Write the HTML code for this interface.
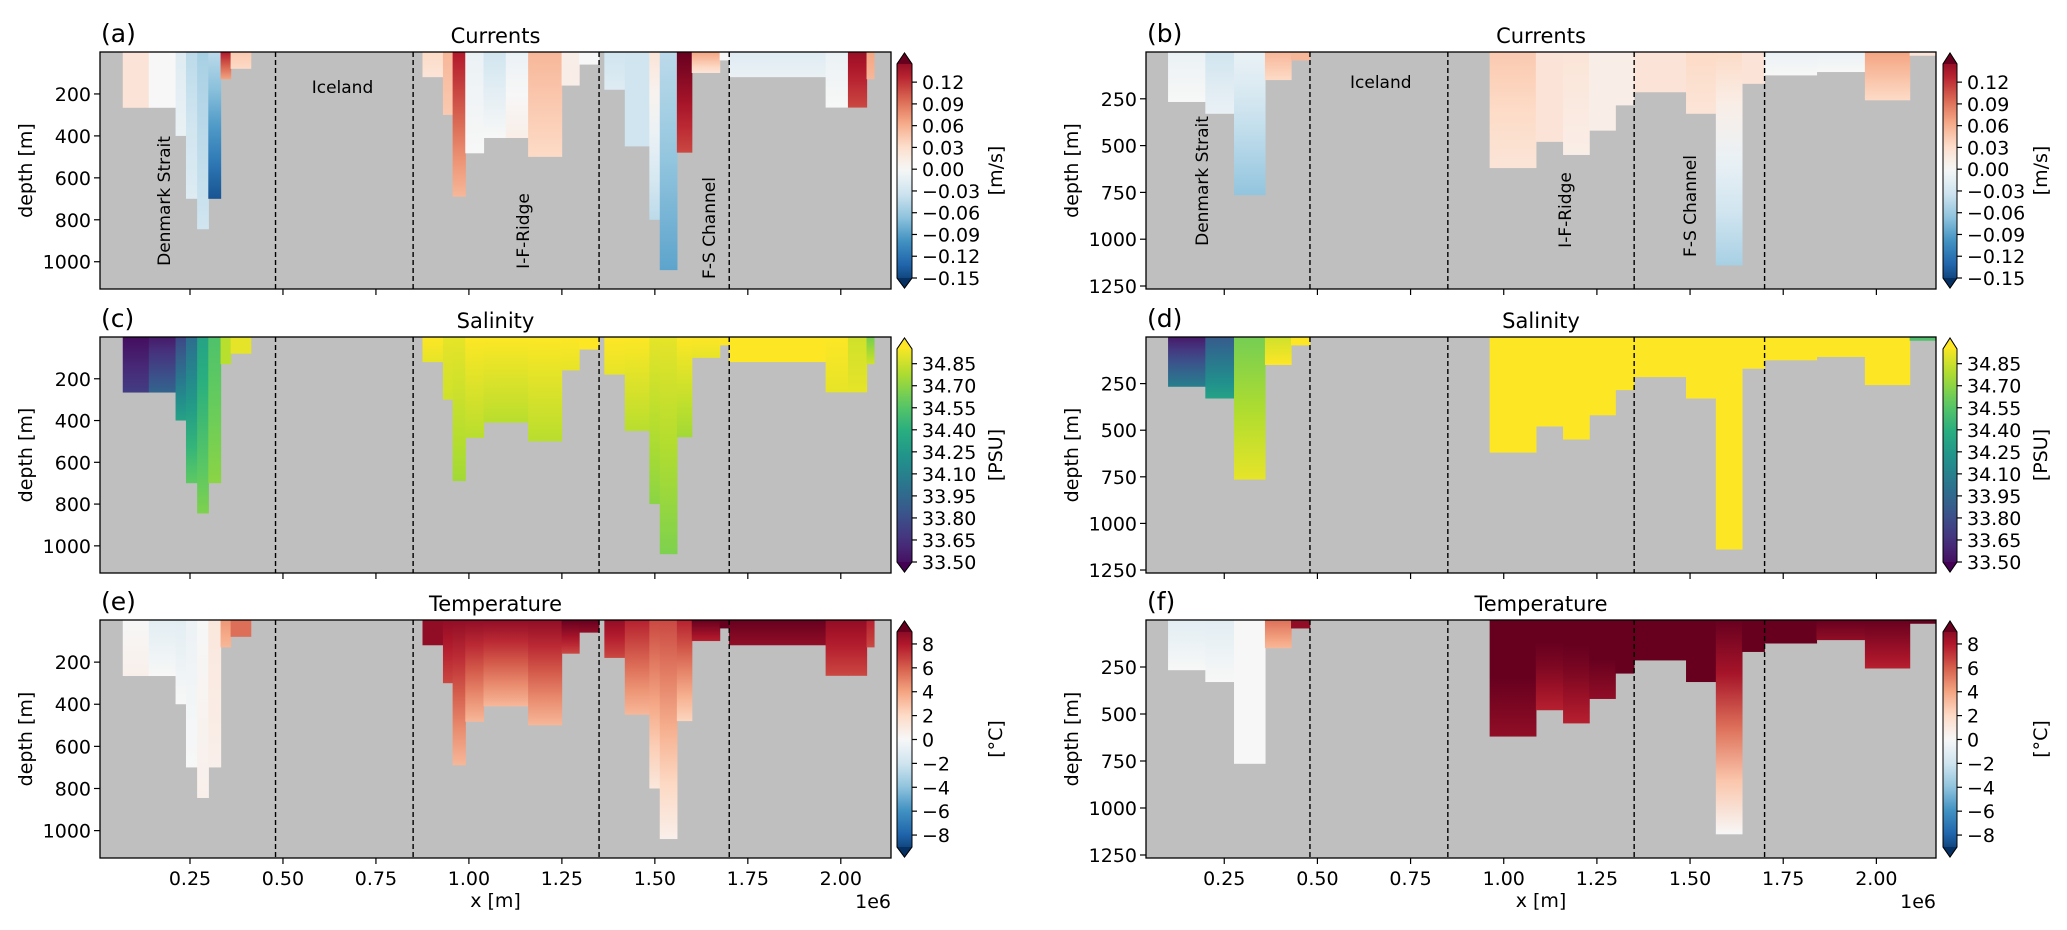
<!DOCTYPE html>
<html><head><meta charset="utf-8"><title>Currents, salinity and temperature sections</title>
<style>
html,body{margin:0;padding:0;background:#fff;}
svg{display:block;font-family:"DejaVu Sans","Liberation Sans",sans-serif;}
</style></head>
<body>
<svg id="fig" width="2067" height="930" viewBox="0 0 2067 930" xmlns="http://www.w3.org/2000/svg"></svg>
<script>
// ---- data: section segments (x in 1e6 m), bathymetry depth, field values at surface/bottom ----
const segX0L = [0.07,0.14,0.212,0.24,0.27,0.30,0.333,0.36,0.876,0.931,0.957,0.991,1.04,1.10,1.16,1.25,1.297,1.365,1.42,1.486,1.514,1.56,1.60,1.675,1.70,1.96,2.02,2.07];
const segX1L = [0.14,0.212,0.24,0.27,0.30,0.333,0.36,0.414,0.931,0.957,0.991,1.04,1.10,1.16,1.25,1.297,1.35,1.42,1.486,1.514,1.56,1.60,1.675,1.70,1.96,2.02,2.07,2.09];
const depthL  = [266,266,400,700,845,700,130,80,120,300,690,483,410,410,500,160,60,180,450,800,1040,480,100,40,120,265,265,130];
const curTopL = [0.02,0.0,-0.02,-0.04,-0.05,-0.04,0.12,0.04,0.03,0.05,0.12,-0.01,-0.03,-0.01,0.05,0.01,0.0,-0.03,-0.03,0.02,-0.04,0.15,0.06,0.0,-0.02,-0.01,0.13,0.06];
const curBotL = [0.02,0.0,-0.01,-0.02,-0.03,-0.13,0.06,0.03,0.02,0.04,0.05,0.0,0.0,0.01,0.03,0.01,0.0,-0.02,-0.03,-0.04,-0.08,0.10,0.02,0.0,-0.01,0.0,0.10,0.05];
const salTopL = [33.55,33.6,33.8,34.0,34.3,34.5,34.75,34.85,34.9,34.85,34.85,34.9,34.9,34.9,34.9,34.9,34.9,34.9,34.9,34.85,34.85,34.9,34.9,34.9,34.95,34.9,34.8,34.6];
const salBotL = [33.75,33.95,34.3,34.55,34.62,34.65,34.75,34.85,34.85,34.8,34.7,34.75,34.75,34.75,34.75,34.85,34.9,34.85,34.75,34.65,34.62,34.7,34.85,34.9,34.9,34.85,34.85,34.8];
const tmpTopL = [0,-1,-1,-0.5,0,1,4,5,8,8,8,8,8,8,8,9,9,8,7,6,6,7,9,9,9,8,8,7];
const tmpBotL = [0.5,0,0,0,0.5,0.5,3,5,8,6,3,3,3,3,3,6,8,6,3,1,0.5,2,7,9,8,6,6,6];

const segX0R = [0.10,0.20,0.277,0.36,0.43,0.963,1.087,1.16,1.23,1.30,1.35,1.49,1.57,1.64,1.70,1.84,1.97,2.09];
const segX1R = [0.20,0.277,0.36,0.43,0.48,1.087,1.16,1.23,1.30,1.35,1.49,1.57,1.64,1.70,1.84,1.97,2.09,2.16];
const depthR  = [267,330,765,150,45,620,480,550,420,285,215,330,1140,170,125,107,258,20];
const curTopR = [-0.01,-0.03,-0.01,0.05,0.05,0.04,0.02,0.02,0.01,0.01,0.02,0.03,0.03,0.02,-0.01,-0.01,0.06,0.02];
const curBotR = [0.0,-0.01,-0.06,0.03,0.05,0.02,0.02,0.01,0.01,0.01,0.02,0.02,-0.05,0.02,0.0,0.0,0.03,0.02];
const salTopR = [33.6,33.9,34.6,34.8,34.9,34.95,34.95,34.95,34.95,34.95,34.95,34.95,34.95,34.95,34.95,34.95,34.9,34.5];
const salBotR = [34.1,34.3,34.85,34.9,34.9,34.95,34.95,34.95,34.95,34.95,34.95,34.95,34.9,34.95,34.95,34.95,34.9,34.5];
const tmpTopR = [-1,-1,0,5,8,10,10,10,10,10,10,10,10,10,9,9,9,9];
const tmpBotR = [0,0,0,3,8,8,7,7,8,10,10,10,0,10,9,8,7,9];

const dividers = [0.48,0.85,1.35,1.70];
const xTicks = [0.25,0.50,0.75,1.00,1.25,1.50,1.75,2.00];
const xTickLabels = ["0.25","0.50","0.75","1.00","1.25","1.50","1.75","2.00"];
const yTicksL = [200,400,600,800,1000];
const yTicksR = [250,500,750,1000,1250];
const cbCurTicks = [-0.15,-0.12,-0.09,-0.06,-0.03,0.00,0.03,0.06,0.09,0.12];
const cbSalTicks = [33.50,33.65,33.80,33.95,34.10,34.25,34.40,34.55,34.70,34.85];
const cbTmpTicks = [-8,-6,-4,-2,0,2,4,6,8];

// ---- colormaps ----
const RDBU = ["#053061","#2166ac","#4393c3","#92c5de","#d1e5f0","#f7f7f7","#fddbc7","#f4a582","#d6604d","#b2182b","#67001f"];
const VIR = ["#440154","#472d7b","#3b528b","#2c728e","#21918c","#28ae80","#5ec962","#addc30","#fde725"];
function hex(h){return [1,3,5].map(i=>parseInt(h.substr(i,2),16));}
function cmap(stops,t){t=Math.max(0,Math.min(1,t));const n=stops.length-1;const f=t*n;const i=Math.min(n-1,Math.floor(f));const u=f-i;const a=hex(stops[i]),b=hex(stops[i+1]);return "rgb("+a.map((v,k)=>Math.round(v+(b[k]-v)*u)).join(",")+")";}
const fields = {
  cur:{stops:RDBU,vmin:-0.15,vmax:0.15,cbMin:-0.15,cbMax:0.145,ticks:cbCurTicks,fmt:v=>(v<0?"\u2212":"")+Math.abs(v).toFixed(2),unit:"[m/s]"},
  sal:{stops:VIR,vmin:33.5,vmax:34.9,cbMin:33.5,cbMax:34.95,ticks:cbSalTicks,fmt:v=>v.toFixed(2),unit:"[PSU]"},
  tmp:{stops:RDBU,vmin:-9,vmax:9,cbMin:-9,cbMax:9,ticks:cbTmpTicks,fmt:v=>(v<0?"\u2212":"")+Math.abs(v),unit:"[\u00b0C]"}
};

const NS="http://www.w3.org/2000/svg";
const svg=document.getElementById("fig");
const defs=document.createElementNS(NS,"defs");svg.appendChild(defs);
function el(tag,attrs,parent){const e=document.createElementNS(NS,tag);for(const k in attrs)e.setAttribute(k,attrs[k]);(parent||svg).appendChild(e);return e;}
let gid=0;
function vgrad(field,v0,v1){
  const id="g"+(gid++);const g=el("linearGradient",{id:id,x1:0,y1:0,x2:0,y2:1},defs);
  for(let k=0;k<=4;k++){const v=v0+(v1-v0)*k/4;el("stop",{offset:k/4,"stop-color":cmap(field.stops,(v-field.vmin)/(field.vmax-field.vmin))},g);}
  return "url(#"+id+")";
}

const rows=[{top:52,h:237,key:"cur",title:"Currents"},{top:337,h:236,key:"sal",title:"Salinity"},{top:620,h:238,key:"tmp",title:"Temperature"}];
const sides=[
  {x:100,w:791,xmin:0.008,xmax:2.135,ymax:1130,yt:yTicksL,cbx:897,cbw:15,unitX:995,letters:["(a)","(c)","(e)"],
   segX0:segX0L,segX1:segX1L,depth:depthL,vals:{cur:[curTopL,curBotL],sal:[salTopL,salBotL],tmp:[tmpTopL,tmpBotL]},
   labels:[["Denmark Strait",0.18,-1,1],["Iceland",0.66,87,0],["I-F-Ridge",1.145,-1,1],["F-S Channel",1.645,-1,1]],labY:[201,87,231,228]},
  {x:1146,w:790,xmin:0.04,xmax:2.16,ymax:1266,yt:yTicksR,cbx:1943,cbw:14,unitX:2040,letters:["(b)","(d)","(f)"],
   segX0:segX0R,segX1:segX1R,depth:depthR,vals:{cur:[curTopR,curBotR],sal:[salTopR,salBotR],tmp:[tmpTopR,tmpBotR]},
   labels:[["Denmark Strait",0.19,-1,1],["Iceland",0.67,82,0],["I-F-Ridge",1.165,-1,1],["F-S Channel",1.50,-1,1]],labY:[181,82,210,206]}
];

sides.forEach((S,si)=>{
  rows.forEach((R,ri)=>{
    const F=fields[R.key];
    const xs=v=>S.x+(v-S.xmin)/(S.xmax-S.xmin)*S.w;
    const ys=d=>R.top+d/S.ymax*R.h;
    const g=el("g",{});
    
    
    const cid="clip"+si+ri;const cp=el("clipPath",{id:cid},defs);el("rect",{x:S.x,y:R.top,width:S.w,height:R.h},cp);
    const bg=el("rect",{x:S.x,y:R.top,width:S.w,height:R.h,fill:"#bfbfbf"},g);
    
    
    const field=el("g",{"clip-path":"url(#"+cid+")"},g);
    
    
    S.depth.forEach((d,i)=>{
      const x0=xs(S.segX0[i]),x1=xs(S.segX1[i]);
      const r=el("rect",{x:x0-0.3,y:R.top,width:x1-x0+0.6,height:ys(d)-R.top,fill:vgrad(F,S.vals[R.key][0][i],S.vals[R.key][1][i])},field);
      
      
    });
    dividers.forEach(v=>{
      const l=el("line",{x1:xs(v),x2:xs(v),y1:R.top,y2:R.top+R.h,stroke:"#000","stroke-width":1.4,"stroke-dasharray":"5,3"},g);
      
      
    });
    const fr=el("rect",{x:S.x,y:R.top,width:S.w,height:R.h,fill:"none",stroke:"#000","stroke-width":1.3},g);
    
    
    S.yt.forEach(v=>{
      const y=ys(v);
      el("line",{x1:S.x-6,x2:S.x,y1:y,y2:y,stroke:"#000","stroke-width":1.2},g);
      const t=el("text",{x:S.x-9,y:y+7,"text-anchor":"end","font-size":19},g);t.textContent=v;
      
      
    });
    xTicks.forEach((v,k)=>{
      const x=xs(v),yb=R.top+R.h;
      el("line",{x1:x,x2:x,y1:yb,y2:yb+6,stroke:"#000","stroke-width":1.2},g);
      if(ri===2){const t=el("text",{x:x,y:yb+27,"text-anchor":"middle","font-size":19},g);t.textContent=xTickLabels[k];
        
        }
    });
    const yl=el("text",{x:0,y:0,"text-anchor":"middle","font-size":19,transform:"translate("+(S.x-68)+","+(R.top+R.h/2)+") rotate(-90)"},g);yl.textContent="depth [m]";
    
    
    const tt=el("text",{x:S.x+S.w/2,y:R.top-9,"text-anchor":"middle","font-size":21},g);tt.textContent=R.title;
    
    
    const pl=el("text",{x:S.x+1,y:R.top-10,"font-size":25},g);pl.textContent=S.letters[ri];
    
    
    if(ri===0){
      S.labels.forEach((L,k)=>{
        const x=xs(L[1]),y=S.labY[k];
        const t=el("text",{x:0,y:0,"text-anchor":"middle","font-size":17,transform:"translate("+(L[3]?x+6:x)+","+(L[3]?y:y+6)+")"+(L[3]?" rotate(-90)":"")},g);
        t.textContent=L[0];
        
        
      });
    }
    if(ri===2){
      const xl=el("text",{x:S.x+S.w/2,y:907,"text-anchor":"middle","font-size":19},g);xl.textContent="x [m]";
      
      
      const ex=el("text",{x:S.x+S.w,y:908,"text-anchor":"end","font-size":19},g);ex.textContent="1e6";
      
      
    }
    const cb=el("g",{});
    
    
    const cx=S.cbx,cw=S.cbw,ct=R.top+12,cbt=R.top+R.h-11;
    const gidc="cb"+si+ri;const lg=el("linearGradient",{id:gidc,x1:0,y1:1,x2:0,y2:0},defs);
    for(let k=0;k<=20;k++){const v=F.cbMin+(F.cbMax-F.cbMin)*k/20;el("stop",{offset:k/20,"stop-color":cmap(F.stops,(v-F.vmin)/(F.vmax-F.vmin))},lg);}
    el("polygon",{points:`${cx},${ct} ${cx+cw/2},${R.top+1} ${cx+cw},${ct} ${cx+cw},${cbt} ${cx+cw/2},${R.top+R.h-1} ${cx},${cbt}`,fill:"url(#"+gidc+")",stroke:"#000","stroke-width":1},cb);
    el("polygon",{points:`${cx},${ct} ${cx+cw/2},${R.top+1} ${cx+cw},${ct}`,fill:cmap(F.stops,1)},cb);
    el("polygon",{points:`${cx},${cbt} ${cx+cw/2},${R.top+R.h-1} ${cx+cw},${cbt}`,fill:cmap(F.stops,0)},cb);
    el("polygon",{points:`${cx},${ct} ${cx+cw/2},${R.top+1} ${cx+cw},${ct} ${cx+cw},${cbt} ${cx+cw/2},${R.top+R.h-1} ${cx},${cbt}`,fill:"none",stroke:"#000","stroke-width":1},cb);
    F.ticks.forEach(v=>{
      const y=cbt-(v-F.cbMin)/(F.cbMax-F.cbMin)*(cbt-ct);
      el("line",{x1:cx+cw,x2:cx+cw+5,y1:y,y2:y,stroke:"#000","stroke-width":1.2},cb);
      const t=el("text",{x:cx+cw+10,y:y+7,"font-size":19},cb);t.textContent=F.fmt(v);
      
      
    });
    const u=el("text",{x:0,y:0,"text-anchor":"middle","font-size":19,transform:"translate("+(S.unitX+7)+","+(R.top+R.h/2)+") rotate(-90)"},cb);u.textContent=F.unit;
    
    
  });
});
</script>
</body></html>
